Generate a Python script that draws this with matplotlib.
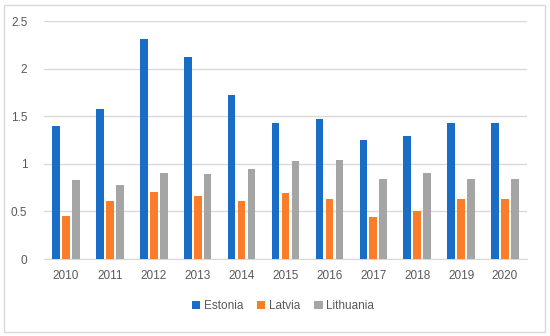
import numpy as np
import matplotlib.pyplot as plt
from matplotlib.patches import Rectangle

years = ['2010', '2011', '2012', '2013', '2014', '2015', '2016', '2017', '2018', '2019', '2020']
estonia = [1.40, 1.58, 2.31, 2.12, 1.72, 1.43, 1.47, 1.25, 1.29, 1.43, 1.43]
latvia = [0.45, 0.61, 0.70, 0.66, 0.61, 0.69, 0.63, 0.44, 0.51, 0.63, 0.63]
lithuania = [0.83, 0.78, 0.90, 0.89, 0.95, 1.03, 1.04, 0.84, 0.90, 0.84, 0.84]
y_ticks = [0, 0.5, 1, 1.5, 2, 2.5]
y_tick_labels = ['0', '0.5', '1', '1.5', '2', '2.5']

plt.rcParams['font.family'] = ['Liberation Sans', 'DejaVu Sans']

fig = plt.figure(figsize=(5.5, 3.36), dpi=100)
ax = fig.add_axes([44 / 550, 1 - 259 / 336, (527 - 44) / 550, (259 - 21.3) / 336])

x = np.arange(len(years))
w = 0.175
step = 0.227
series = [('Estonia', estonia, '#1A6DC6'),
          ('Latvia', latvia, '#FB7D29'),
          ('Lithuania', lithuania, '#A5A5A5')]
for i, (name, vals, col) in enumerate(series):
    ax.bar(x + (i - 1) * step, vals, width=w, color=col, label=name, zorder=3)

ax.set_xlim(-0.5, len(years) - 0.5)
ax.set_ylim(0, 2.5)
ax.set_yticks(y_ticks)
ax.set_yticklabels(y_tick_labels)
ax.set_xticks(x)
ax.set_xticklabels(years)
ax.yaxis.grid(True, color='#D9D9D9', linewidth=1, zorder=0)
for s in ['top', 'right', 'left']:
    ax.spines[s].set_visible(False)
ax.spines['bottom'].set_color('#D9D9D9')
ax.tick_params(axis='both', length=0, labelsize=8.5, colors='#595959')
ax.tick_params(axis='x', pad=8)
ax.tick_params(axis='y', pad=12)

fig.legend(loc='center', bbox_to_anchor=(283 / 550, 1 - 306 / 336), ncol=3,
           frameon=False, fontsize=8.5, handlelength=0.7, handleheight=0.7,
           handletextpad=0.3, columnspacing=1.2, labelcolor='#595959')

fig.patches.append(Rectangle((4 / 550, 4 / 336), 541 / 550, 327 / 336, transform=fig.transFigure,
                             fill=False, edgecolor='#D9D9D9', linewidth=1))

fig.savefig('out.png', dpi=100)
